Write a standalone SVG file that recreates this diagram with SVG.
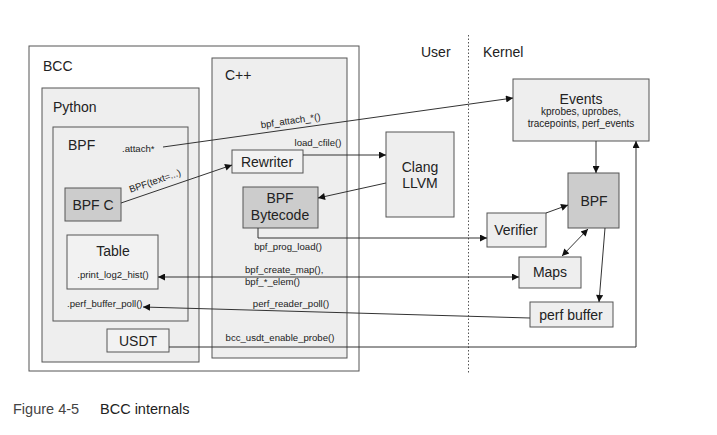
<svg xmlns="http://www.w3.org/2000/svg" width="717" height="435" viewBox="0 0 717 435">
<style>
text{font-family:"Liberation Sans",Arial,sans-serif;fill:#222}
.box{stroke:#555;stroke-width:1}
.lt{fill:#eeeeee}
.lt2{fill:#f2f2f2}
.dk{fill:#cccccc}
.big{font-size:14px}
.sm{font-size:9.6px}
.md{font-size:10px}
.c{text-anchor:middle}
.ln{fill:none;stroke:#333;stroke-width:1}
</style>
<defs>
<marker id="ah" viewBox="0 0 10 10" refX="10" refY="5" markerWidth="10" markerHeight="7" markerUnits="userSpaceOnUse" orient="auto">
<path d="M0,0 L10,5 L0,10 z" fill="#111"/>
</marker>
<marker id="as" viewBox="0 0 10 10" refX="0" refY="5" markerWidth="10" markerHeight="7" markerUnits="userSpaceOnUse" orient="auto">
<path d="M10,0 L0,5 L10,10 z" fill="#111"/>
</marker>
</defs>
<rect width="717" height="435" fill="#fff"/>

<g id="bcc">
<rect class="box" x="29" y="46" width="330" height="325" fill="#fff"/>
<text class="big" x="43" y="71">BCC</text>
</g>
<g id="python">
<rect class="box lt" x="42" y="88" width="157" height="274"/>
<text class="big" x="53" y="112">Python</text>
</g>
<g id="bpf-py">
<rect class="box lt" x="53" y="127" width="135" height="194"/>
<text class="big" x="68" y="150">BPF</text>
<text class="sm" x="122" y="152">.attach*</text>
<text class="sm" x="67" y="307">.perf_buffer_poll()</text>
</g>
<g id="bpfc">
<rect class="box dk" x="65" y="188" width="56" height="33"/>
<text class="big c" x="93" y="210">BPF C</text>
</g>
<g id="table">
<rect class="box lt2" x="67" y="235" width="91" height="54"/>
<text class="big c" x="113" y="256">Table</text>
<text class="sm c" x="113" y="278">.print_log2_hist()</text>
</g>
<g id="usdt">
<rect class="box lt2" x="107" y="329" width="62" height="23"/>
<text class="big c" x="138" y="346">USDT</text>
</g>
<g id="cpp">
<rect class="box lt" x="212" y="58" width="135" height="300"/>
<text class="big" x="225" y="80">C++</text>
</g>
<g id="rewriter">
<rect class="box lt2" x="232" y="150" width="71" height="23"/>
<text class="big c" x="267" y="167">Rewriter</text>
</g>
<g id="bytecode">
<rect class="box dk" x="243" y="187" width="75" height="41"/>
<text class="big c" x="280" y="203">BPF</text>
<text class="big c" x="280" y="220">Bytecode</text>
</g>
<g id="clang">
<rect class="box lt" x="386" y="132" width="68" height="85"/>
<text class="big c" x="420" y="172">Clang</text>
<text class="big c" x="420" y="188">LLVM</text>
</g>
<g id="divider">
<line x1="468.5" y1="35" x2="468.5" y2="374" stroke="#555" stroke-width="1" stroke-dasharray="1.5,2"/>
<text class="big" x="421" y="57">User</text>
<text class="big" x="483" y="57">Kernel</text>
</g>
<g id="events">
<rect class="box lt" x="513" y="79" width="136" height="62"/>
<text class="big c" x="581" y="104">Events</text>
<text class="md c" x="581" y="115">kprobes, uprobes,</text>
<text class="md c" x="581" y="127">tracepoints, perf_events</text>
</g>
<g id="bpf-k">
<rect class="box dk" x="568" y="173" width="51" height="55"/>
<text class="big c" x="594" y="206">BPF</text>
</g>
<g id="verifier">
<rect class="box lt" x="487" y="213" width="59" height="34"/>
<text class="big c" x="516" y="235">Verifier</text>
</g>
<g id="maps">
<rect class="box lt" x="519" y="257" width="62" height="31"/>
<text class="big c" x="550" y="277">Maps</text>
</g>
<g id="perfbuf">
<rect class="box lt" x="530" y="302" width="83" height="25"/>
<text class="big c" x="571" y="320">perf buffer</text>
</g>

<g id="connectors">
<line class="ln" x1="163" y1="147" x2="513" y2="98" marker-end="url(#ah)"/>
<line class="ln" x1="121" y1="203" x2="232" y2="165" marker-end="url(#ah)"/>
<line class="ln" x1="303" y1="155" x2="386" y2="155" marker-end="url(#ah)"/>
<line class="ln" x1="386" y1="183" x2="318" y2="198" marker-end="url(#ah)"/>
<polyline class="ln" points="258,228 258,238 487,238" marker-end="url(#ah)"/>
<line class="ln" x1="158" y1="277" x2="519" y2="277" marker-start="url(#as)" marker-end="url(#ah)"/>
<line class="ln" x1="530" y1="318" x2="143" y2="307" marker-end="url(#ah)"/>
<polyline class="ln" points="169,347 636,347 636,141" marker-end="url(#ah)"/>
<line class="ln" x1="596" y1="141" x2="596" y2="173" marker-end="url(#ah)"/>
<line class="ln" x1="546" y1="213" x2="568" y2="205" marker-end="url(#ah)"/>
<line class="ln" x1="588" y1="229" x2="562" y2="256" marker-start="url(#as)" marker-end="url(#ah)"/>
<line class="ln" x1="605" y1="228" x2="599" y2="302" marker-end="url(#ah)"/>
<text class="sm c" transform="translate(156,184) rotate(-19)">BPF(text=...)</text>
<text class="sm c" transform="translate(291,124) rotate(-8)">bpf_attach_*()</text>
<text class="sm c" x="318" y="146">load_cfile()</text>
<text class="sm c" x="288" y="250">bpf_prog_load()</text>
<text class="sm" x="245" y="273">bpf_create_map(),</text>
<text class="sm" x="245" y="285">bpf_*_elem()</text>
<text class="sm c" x="291" y="307">perf_reader_poll()</text>
<text class="sm c" x="280" y="341">bcc_usdt_enable_probe()</text>
</g>

<g id="caption">
<text x="13" y="414" font-size="14.5" style="fill:#444">Figure 4-5</text>
<text x="100" y="414" font-size="14.5" style="fill:#222">BCC internals</text>
</g>
</svg>
